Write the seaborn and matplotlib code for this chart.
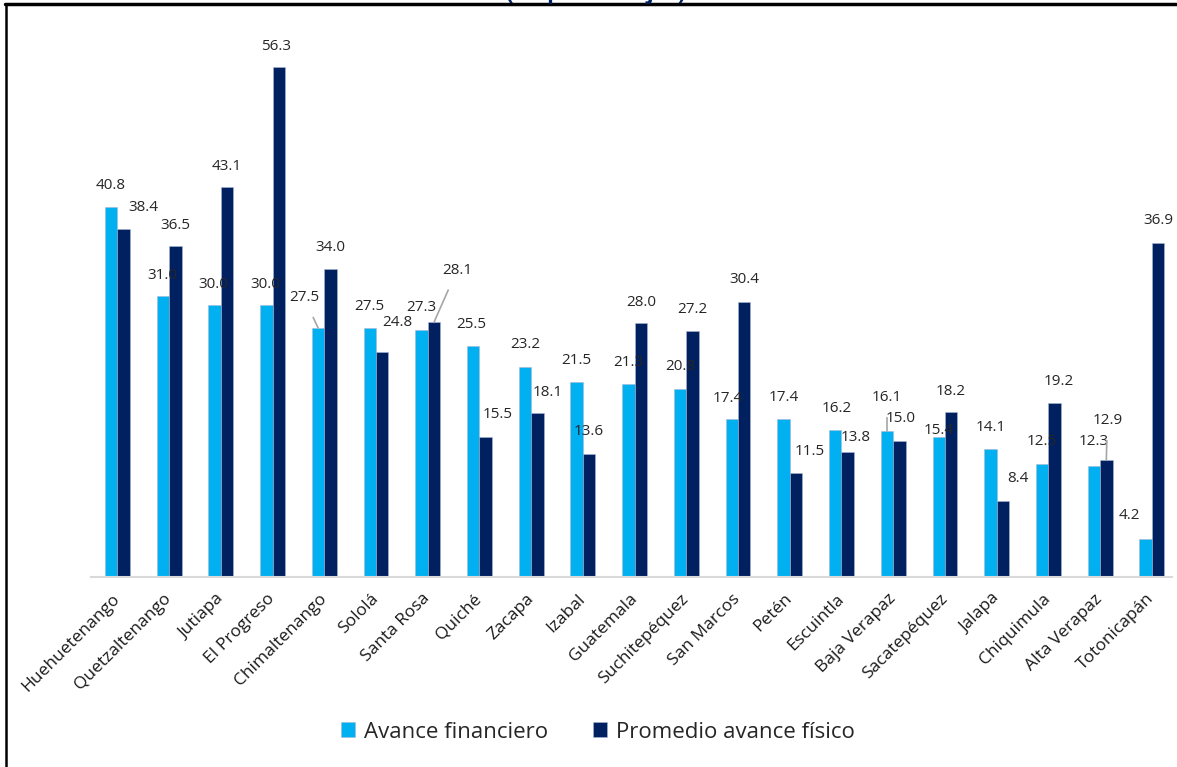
import pandas as pd
import matplotlib.pyplot as plt
import seaborn as sns
from matplotlib.lines import Line2D

# Data
departamentos = ['Huehuetenango', 'Quetzaltenango', 'Jutiapa', 'El Progreso', 'Chimaltenango',
                 'Sololá', 'Santa Rosa', 'Quiché', 'Zacapa', 'Izabal', 'Guatemala',
                 'Suchitepéquez', 'San Marcos', 'Petén', 'Escuintla', 'Baja Verapaz',
                 'Sacatepéquez', 'Jalapa', 'Chiquimula', 'Alta Verapaz', 'Totonicapán']
avance_financiero = [40.8, 31.0, 30.0, 30.0, 27.5, 27.5, 27.3, 25.5, 23.2, 21.5, 21.3,
                     20.8, 17.4, 17.4, 16.2, 16.1, 15.4, 14.1, 12.5, 12.3, 4.2]
avance_fisico = [38.4, 36.5, 43.1, 56.3, 34.0, 24.8, 28.1, 15.5, 18.1, 13.6, 28.0,
                 27.2, 30.4, 11.5, 13.8, 15.0, 18.2, 8.4, 19.2, 12.9, 36.9]
series = ['Avance financiero', 'Promedio avance físico']

# label offsets in pixels (dx, dy) from the bar top, as Excel placed them
off_fin = [(-1, 22), (-1, 21), (-1, 21), (-1, 21), (-14, 30), (0, 21), (0, 22), (-2, 21),
           (0, 22), (0, 22), (0, 22), (0, 22), (-4, 21), (0, 22), (1, 22), (0, 34),
           (0, 7), (0, 22), (0, 22), (0, 24), (-16, 23)]
off_fis = [(20, 22), (0, 21), (0, 20), (-3, 20), (0, 21), (15, 30), (23, 52), (12, 22),
           (10, 21), (0, 22), (0, 21), (0, 21), (0, 22), (14, 21), (8, 14), (1, 23),
           (0, 21), (15, 22), (4, 22), (1, 40), (0, 22)]
leader_fin = {4, 15}
leader_fis = {6, 19}

df = pd.DataFrame({
    'depto': departamentos * 2,
    'valor': avance_financiero + avance_fisico,
    'serie': [series[0]] * len(departamentos) + [series[1]] * len(departamentos),
})

sns.set_theme(style='white')
plt.rcParams['font.family'] = ['Open Sans', 'DejaVu Sans']

fig = plt.figure(figsize=(11.77, 7.67), dpi=100)
ax = fig.add_axes([91 / 1177, 190 / 767, (1172 - 91) / 1177, 543.6 / 767])

colors = ['#00b0f0', '#002060']
sns.barplot(data=df, x='depto', y='valor', hue='serie', palette=colors, width=0.48,
            gap=0, saturation=1, ax=ax, edgecolor='#a9b8d4', linewidth=0.4, legend=True)

ax.set_ylim(0, 60)
ax.set_xlim(-0.51, 20.39)
ax.set_yticks([])
ax.set_xlabel('')
ax.set_ylabel('')
for s in ['top', 'right', 'left']:
    ax.spines[s].set_visible(False)
ax.spines['bottom'].set_color('#d9d9d9')
ax.spines['bottom'].set_linewidth(1.5)

ax.tick_params(axis='x', length=0, pad=14)
plt.setp(ax.get_xticklabels(), rotation=45, ha='right', va='center',
         rotation_mode='anchor', fontsize=12.5, color='#1a1a1a')

# value labels
for cont, offs, leaders in zip(ax.containers, [off_fin, off_fis], [leader_fin, leader_fis]):
    for i, bar in enumerate(cont):
        x = bar.get_x() + bar.get_width() / 2
        h = bar.get_height()
        dx, dy = offs[i]
        props = None
        if i in leaders:
            props = dict(arrowstyle='-', color='#a6a6a6', lw=1.2, shrinkA=7, shrinkB=0)
        ax.annotate(f'{h:.1f}', xy=(x, h), xytext=(dx, dy), textcoords='offset pixels',
                    ha='center', va='center', fontsize=11, color='#262626',
                    arrowprops=props)

# legend at the bottom
handles, labels = ax.get_legend_handles_labels()
ax.legend(handles, labels, loc='center', bbox_to_anchor=(0.508, 35 / 767),
          bbox_transform=fig.transFigure, ncol=2, frameon=False, fontsize=16,
          handlelength=0.65, handleheight=0.65, handletextpad=0.4, columnspacing=2.0)

# title cut off at the top of the image
fig.text(0.506, 1 + 1 / 767, '(en porcentajes)', ha='center', va='baseline',
         fontsize=16, fontweight='bold', color='#002060')

# chart border (top and left edges)
fig.add_artist(Line2D([5 / 1177, 1], [1 - 4 / 767, 1 - 4 / 767], color='black', lw=2.5,
                      transform=fig.transFigure))
fig.add_artist(Line2D([6 / 1177, 6 / 1177], [0, 1 - 4 / 767], color='black', lw=1.8,
                      transform=fig.transFigure))

fig.savefig('out.png', dpi=100)
